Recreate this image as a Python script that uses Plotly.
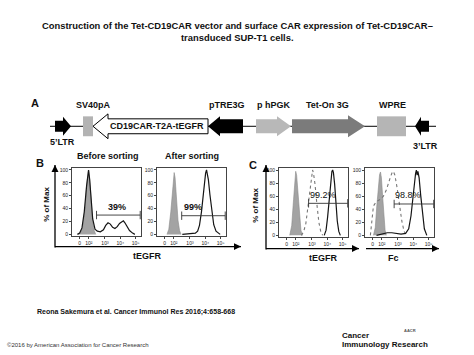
import plotly.graph_objects as go

W, H = 474, 355


def px(x):
    return x / W


def py(y):
    return 1 - y / H


# ---------------- data ----------------
x_tick_vals = [1.35, 1.95, 3, 4, 5]
x_tick_text = ["0", "10²", "10³", "10⁴", "10⁵"]
y_tick_vals = [0, 20, 40, 60, 80, 100]

# Panel B, before sorting
b1_gray_x = [1.25, 1.4, 1.55, 1.7, 1.8, 1.88, 1.93, 2.0, 2.1, 2.2, 2.3, 2.4]
b1_gray_y = [0, 3, 12, 40, 75, 97, 100, 85, 50, 20, 6, 0]
b1_black_x = [1.2, 1.35, 1.5, 1.65, 1.8, 1.88, 1.93, 2.0, 2.1, 2.2, 2.35, 2.5, 2.7, 2.9,
              3.05, 3.2, 3.35, 3.5, 3.65, 3.8, 3.95, 4.1, 4.2, 4.3, 4.45, 4.6, 4.8, 4.95]
b1_black_y = [0, 2, 10, 35, 75, 97, 100, 86, 52, 24, 8, 5, 4, 7,
              14, 18, 16, 11, 9, 12, 17, 20, 21, 18, 12, 6, 2, 0]

# Panel B, after sorting
b2_gray_x = [1.5, 1.62, 1.75, 1.85, 1.92, 1.97, 2.03, 2.12, 2.22, 2.32, 2.42]
b2_gray_y = [0, 8, 35, 70, 90, 96, 88, 55, 22, 6, 0]
b2_black_x = [2.5, 3.0, 3.35, 3.5, 3.62, 3.75, 3.85, 3.95, 4.02, 4.08, 4.12, 4.2, 4.3,
              4.42, 4.55, 4.7, 4.85, 4.97]
b2_black_y = [0, 1, 2, 5, 14, 35, 60, 82, 95, 100, 96, 85, 62, 35, 15, 5, 2, 0]

# Panel C, tEGFR
c1_gray_x = [1.55, 1.68, 1.8, 1.88, 1.94, 2.0, 2.08, 2.18, 2.28, 2.38]
c1_gray_y = [0, 15, 55, 85, 98, 92, 65, 30, 8, 0]
c1_dot_x = [2.3, 2.45, 2.6, 2.75, 2.88, 2.98, 3.04, 3.1, 3.2, 3.32, 3.45, 3.58, 3.7]
c1_dot_y = [0, 5, 18, 45, 75, 95, 100, 95, 78, 48, 20, 5, 0]
c1_black_x = [3.8, 3.92, 4.02, 4.12, 4.22, 4.3, 4.35, 4.4, 4.48, 4.56, 4.65, 4.75, 4.85]
c1_black_y = [0, 8, 28, 58, 85, 98, 100, 96, 78, 50, 22, 6, 0]

# Panel C, Fc
c2_gray_x = [1.4, 1.52, 1.62, 1.72, 1.8, 1.86, 1.92, 2.0, 2.08, 2.16, 2.24]
c2_gray_y = [0, 12, 45, 78, 93, 97, 88, 60, 30, 8, 0]
c2_dot_x = [1.2, 1.3, 1.4, 1.6, 1.85, 2.05, 2.25, 2.45, 2.6, 2.7, 2.8, 2.95, 3.1, 3.25, 3.4, 3.55]
c2_dot_y = [0, 25, 45, 52, 55, 60, 70, 85, 95, 98, 92, 72, 45, 22, 6, 0]
c2_black_x = [1.6, 1.8, 2.0, 2.3, 2.6, 2.9, 3.2, 3.5, 3.7, 3.85, 3.98, 4.08, 4.15, 4.2,
              4.25, 4.3, 4.38, 4.48, 4.6, 4.72, 4.88]
c2_black_y = [0, 1, 3, 4, 4, 3, 2, 3, 10, 30, 62, 85, 95, 100, 92, 98, 88, 62, 30, 10, 0]

# gates
gate_lo = [2.45, 2.46, 2.78, 2.75]
gate_hi = [5.3, 5.3, 5.33, 5.33]
gate_y = [30, 29, 49, 48]
gate_labels = ["39%", "99%", "99.2%", "98.8%"]
gate_label_x = [3.76, 3.17, 3.74, 3.63]

# ---------------- layout constants ----------------
x_range = [0.85, 5.35]
y_range = [-2, 103]
# plot boxes in pixel coords: (left, right, top, bottom)
boxes = [(72, 141, 168, 236), (157, 226, 168, 236), (279, 348, 168, 237), (365, 434, 168, 237)]

GRAY_FILL = "#a3a3a3"
BLACK = "#151515"
FONT = "Liberation Sans"

fig = go.Figure()

panels = [
    dict(gray=(b1_gray_x, b1_gray_y), black=(b1_black_x, b1_black_y), dot=None),
    dict(gray=(b2_gray_x, b2_gray_y), black=(b2_black_x, b2_black_y), dot=None),
    dict(gray=(c1_gray_x, c1_gray_y), black=(c1_black_x, c1_black_y), dot=(c1_dot_x, c1_dot_y)),
    dict(gray=(c2_gray_x, c2_gray_y), black=(c2_black_x, c2_black_y), dot=(c2_dot_x, c2_dot_y)),
]

layout_axes = {}
annotations = []
for i, p in enumerate(panels):
    n = "" if i == 0 else str(i + 1)
    xa, ya = "x" + n, "y" + n
    fig.add_trace(go.Scatter(x=p["gray"][0], y=p["gray"][1], mode="lines", fill="tozeroy",
                             fillcolor=GRAY_FILL, line=dict(color="#8a8a8a", width=0.6),
                             xaxis=xa, yaxis=ya, showlegend=False, hoverinfo="skip"))
    if p["dot"] is not None:
        fig.add_trace(go.Scatter(x=p["dot"][0], y=p["dot"][1], mode="lines",
                                 line=dict(color="#777777", width=1.1, dash="dot"),
                                 xaxis=xa, yaxis=ya, showlegend=False, hoverinfo="skip"))
    fig.add_trace(go.Scatter(x=p["black"][0], y=p["black"][1], mode="lines",
                             line=dict(color=BLACK, width=1.2),
                             xaxis=xa, yaxis=ya, showlegend=False, hoverinfo="skip"))
    # gate
    fig.add_trace(go.Scatter(x=[gate_lo[i], gate_hi[i]], y=[gate_y[i], gate_y[i]],
                             mode="lines+markers",
                             line=dict(color="#333333", width=0.9),
                             marker=dict(symbol="line-ns", size=6,
                                         line=dict(color="#333333", width=0.9)),
                             xaxis=xa, yaxis=ya, showlegend=False, hoverinfo="skip"))
    bold = i < 2
    annotations.append(dict(x=gate_label_x[i], y=gate_y[i] + 13, xref=xa, yref=ya,
                            text=("<b>%s</b>" % gate_labels[i]) if bold else gate_labels[i],
                            showarrow=False,
                            font=dict(family=FONT, size=9, color="#111")))
    l, r, t, b = boxes[i]
    common = dict(showline=True, linecolor="#444", linewidth=0.8, mirror=True,
                  ticks="outside", ticklen=2, tickwidth=0.6, tickcolor="#444",
                  showgrid=False, zeroline=False,
                  tickfont=dict(family=FONT, size=5, color="#222"))
    layout_axes["xaxis" + n] = dict(domain=[px(l), px(r)], range=x_range, anchor=ya,
                                    tickmode="array", tickvals=x_tick_vals,
                                    ticktext=x_tick_text, **common)
    layout_axes["yaxis" + n] = dict(domain=[py(b), py(t)], range=y_range, anchor=xa,
                                    tickmode="array", tickvals=y_tick_vals, **common)


def text(x, y, s, size, bold=True, anchor="center", angle=0, color="#111"):
    annotations.append(dict(x=px(x), y=py(y), xref="paper", yref="paper",
                            text=("<b>%s</b>" % s) if bold else s, showarrow=False,
                            xanchor=anchor, yanchor="middle", textangle=angle,
                            font=dict(family=FONT, size=size, color=color)))


def poly(points, fill, line_color=None, lw=0):
    path = "M " + " L ".join("%.5f,%.5f" % (px(x), py(y)) for x, y in points) + " Z"
    return dict(type="path", path=path, xref="paper", yref="paper", fillcolor=fill,
                line=dict(color=line_color or fill, width=lw), layer="above")


def line(x0, y0, x1, y1, w=1.3):
    return dict(type="line", xref="paper", yref="paper", x0=px(x0), x1=px(x1),
                y0=py(y0), y1=py(y1), line=dict(color="#000", width=w), layer="above")


shapes = []


def axis_arrow(x0, y0, x1, y1):
    # head at (x1, y1)
    shapes.append(line(x0, y0, x1, y1))
    if x0 == x1:  # vertical, pointing up
        shapes.append(poly([(x1 - 3.5, y1 + 7), (x1 + 3.5, y1 + 7), (x1, y1)], "#000"))
    else:  # horizontal, pointing right
        shapes.append(poly([(x1 - 7, y1 - 3.5), (x1 - 7, y1 + 3.5), (x1, y1)], "#000"))


# title
text(237, 25, "Construction of the Tet-CD19CAR vector and surface CAR expression of Tet-CD19CAR–", 9.4)
text(237, 37, "transduced SUP-T1 cells.", 9.4)

# panel letters
text(35, 103, "A", 11)
text(40, 163, "B", 11)
text(253, 165, "C", 11)

# panel B/C labels
text(108, 156, "Before sorting", 9)
text(192, 156, "After sorting", 9)
text(47, 205, "% of Max", 8, angle=-90)
text(147, 256, "tEGFR", 9)
text(256, 205, "% of Max", 8, angle=-90)
text(323, 258, "tEGFR", 9)
text(393, 258, "Fc", 9)

# big axis arrows
axis_arrow(55, 248, 55, 165)
axis_arrow(55, 247, 241, 247)
axis_arrow(266, 250, 266, 165)
axis_arrow(266, 249, 359, 249)
axis_arrow(366, 249, 439, 249)

# footer
text(35, 313, "Reona Sakemura et al. Cancer Immunol Res 2016;4:658-668", 7, anchor="left")
text(5, 346, "©2016 by American Association for Cancer Research", 6, bold=False, anchor="left",
     color="#333")
text(340, 336, "Cancer", 8, anchor="left")
text(340, 345, "Immunology Research", 8, anchor="left")
text(402, 331, "AACR", 4, anchor="left", color="#555")

# ---------------- vector diagram (panel A) ----------------
CY = 126


def h_arrow(x0, xb, xt, bh, hh, fill, lc=None, lw=0):
    return poly([(x0, CY - bh), (xb, CY - bh), (xb, CY - hh), (xt, CY), (xb, CY + hh),
                 (xb, CY + bh), (x0, CY + bh)], fill, lc, lw)


shapes += [
    line(50, CY, 436, CY, 1),
    h_arrow(55, 63, 71, 5.5, 9.5, "#000"),
    poly([(83, CY - 10), (93, CY - 10), (93, CY + 10), (83, CY + 10)], "#b3b3b3"),
    h_arrow(208, 108, 93, 7.5, 12.5, "#ffffff", "#000", 1),
    h_arrow(243, 220, 208, 7, 10, "#000"),
    h_arrow(256, 277, 291, 7, 10, "#b8b8b8"),
    h_arrow(292, 348, 365, 7, 11, "#7b7b7b"),
    poly([(377, CY - 10), (406, CY - 10), (406, CY + 10), (377, CY + 10)], "#b5b5b5"),
    h_arrow(429, 421, 415, 5.5, 9.5, "#000"),
]

text(157, CY, "CD19CAR-T2A-tEGFR", 9)
text(93, 105, "SV40pA", 9)
text(227, 105, "pTRE3G", 9)
text(273, 105, "p hPGK", 9)
text(327, 105, "Tet-On 3G", 9)
text(392, 105, "WPRE", 9)
text(62, 142, "5’LTR", 9)
text(425, 146, "3’LTR", 9)

fig.update_layout(
    width=W, height=H,
    margin=dict(l=0, r=0, t=0, b=0),
    paper_bgcolor="white", plot_bgcolor="white",
    showlegend=False,
    annotations=annotations,
    shapes=shapes,
    **layout_axes,
)

fig.write_html("out.html", config={"displayModeBar": False},
               post_script="document.body.style.margin='0';document.body.style.padding='0';")
